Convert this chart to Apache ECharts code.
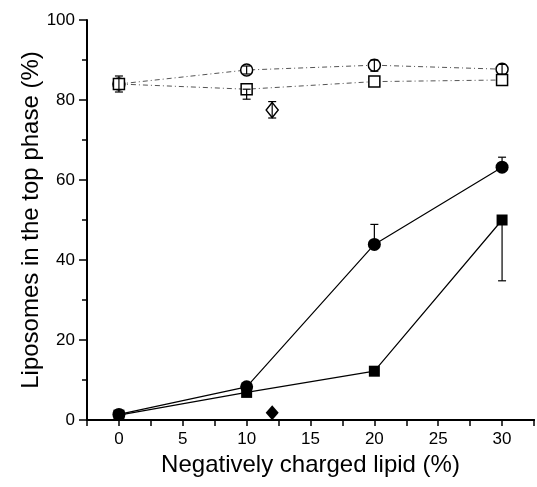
<!DOCTYPE html>
<html>
<head>
<meta charset="utf-8">
<script src="https://cdn.jsdelivr.net/npm/echarts@6/dist/echarts.min.js"></script>
<style>
  html, body { margin: 0; padding: 0; background: #fff; }
  #chart { width: 537px; height: 487px; }
</style>
</head>
<body>
<div id="chart"></div>
<script>
// lipid content (%)
let lipid_pct = [0, 10, 20, 30];

// filled symbols
let filled_circle = [1.4, 8.3, 43.9, 63.2];
let filled_square = [1.2, 6.9, 12.2, 50];
// open symbols
let open_circle = [84, 87.5, 88.7, 87.7];
let open_square = [84, 82.7, 84.6, 85];
// single points at 12 %
let open_diamond = [[12, 77.5]];
let filled_diamond = [[12, 1.8]];

// error bars: [x, low, high]
let error_bars = [
    [0, 82, 86],
    [10, 86.5, 88.5],
    [20, 87.2, 90],
    [30, 86.5, 88.9],
    [10, 80.2, 82.7],
    [12, 75.5, 79.6],
    [20, 43.9, 48.9],
    [30, 63.2, 65.7],
    [30, 34.8, 50]
];

const FONT = 'Liberation Sans';

function pairs(values) {
    return lipid_pct.map(function (x, i) { return [x, values[i]]; });
}

let chart = echarts.init(document.getElementById('chart'));

let options = {
    animation: false,
    backgroundColor: '#fff',
    textStyle: { fontFamily: FONT, color: '#000' },
    grid: { left: 87, top: 20, width: 452, bottom: 67 },
    xAxis: [
        {
            type: 'value',
            min: -2.5,
            max: 32.5,
            interval: 2.5,
            name: 'Negatively charged lipid (%)',
            nameLocation: 'middle',
            nameGap: 33,
            nameTextStyle: { fontSize: 24, fontFamily: FONT, color: '#000' },
            splitLine: { show: false },
            axisLine: { onZero: false, lineStyle: { color: '#000', width: 2 } },
            axisTick: { inside: false, length: 6, lineStyle: { color: '#000', width: 1.5 } },
            axisLabel: {
                fontSize: 17,
                color: '#000',
                margin: 11,
                formatter: function (v) {
                    return (v >= 0 && v % 5 === 0) ? String(v) : '';
                }
            }
        },
        {
            type: 'value',
            position: 'top',
            min: -2.5,
            max: 32.5,
            axisLine: { show: true, lineStyle: { color: '#000', width: 2 } },
            axisTick: { show: false },
            axisLabel: { show: false },
            splitLine: { show: false }
        }
    ],
    yAxis: {
        type: 'value',
        min: 0,
        max: 100,
        interval: 20,
        name: 'Liposomes in the top phase (%)',
        nameLocation: 'middle',
        nameGap: 44,
        nameMoveOverlap: false,
        nameTextStyle: { fontSize: 24, fontFamily: FONT, color: '#000' },
        splitLine: { show: false },
        axisLine: { onZero: false, lineStyle: { color: '#000', width: 2 } },
        axisTick: { length: 8, lineStyle: { color: '#000', width: 1.5 } },
        minorTick: { show: true, splitNumber: 2, length: 5, lineStyle: { color: '#000', width: 1.5 } },
        axisLabel: { fontSize: 17, color: '#000', margin: 12 }
    },
    series: [
        {
            name: 'open circle',
            type: 'line',
            data: pairs(open_circle),
            symbol: 'circle',
            symbolSize: 12,
            lineStyle: { color: '#555', width: 1, type: [5, 3, 1, 3] },
            itemStyle: { color: '#fff', borderColor: '#000', borderWidth: 1.5 },
            z: 3
        },
        {
            name: 'open square',
            type: 'line',
            data: pairs(open_square),
            symbol: 'rect',
            symbolSize: 11,
            lineStyle: { color: '#555', width: 1, type: [5, 3, 1, 3] },
            itemStyle: { color: '#fff', borderColor: '#000', borderWidth: 1.5 },
            z: 3
        },
        {
            name: 'filled circle',
            type: 'line',
            data: pairs(filled_circle),
            symbol: 'circle',
            symbolSize: 13,
            lineStyle: { color: '#000', width: 1.2 },
            itemStyle: { color: '#000' },
            z: 3
        },
        {
            name: 'filled square',
            type: 'line',
            data: pairs(filled_square),
            symbol: 'rect',
            symbolSize: 11,
            lineStyle: { color: '#000', width: 1.2 },
            itemStyle: { color: '#000' },
            z: 3
        },
        {
            name: 'open diamond',
            type: 'scatter',
            data: open_diamond,
            symbol: 'diamond',
            symbolSize: [12, 15],
            itemStyle: { color: '#fff', borderColor: '#000', borderWidth: 1.5, opacity: 1 },
            z: 3
        },
        {
            name: 'filled diamond',
            type: 'scatter',
            data: filled_diamond,
            symbol: 'diamond',
            symbolSize: [13, 15],
            itemStyle: { color: '#000', opacity: 1 },
            z: 3
        },
        {
            name: 'error',
            type: 'custom',
            data: error_bars,
            z: 4,
            renderItem: function (params, api) {
                let x = api.value(0);
                let lo = api.coord([x, api.value(1)]);
                let hi = api.coord([x, api.value(2)]);
                let cap = 4;
                let style = { stroke: '#000', lineWidth: 1.2 };
                return {
                    type: 'group',
                    children: [
                        { type: 'line', shape: { x1: lo[0], y1: lo[1], x2: hi[0], y2: hi[1] }, style: style },
                        { type: 'line', shape: { x1: lo[0] - cap, y1: lo[1], x2: lo[0] + cap, y2: lo[1] }, style: style },
                        { type: 'line', shape: { x1: hi[0] - cap, y1: hi[1], x2: hi[0] + cap, y2: hi[1] }, style: style }
                    ]
                };
            }
        }
    ]
};

chart.setOption(options);
</script>
</body>
</html>
